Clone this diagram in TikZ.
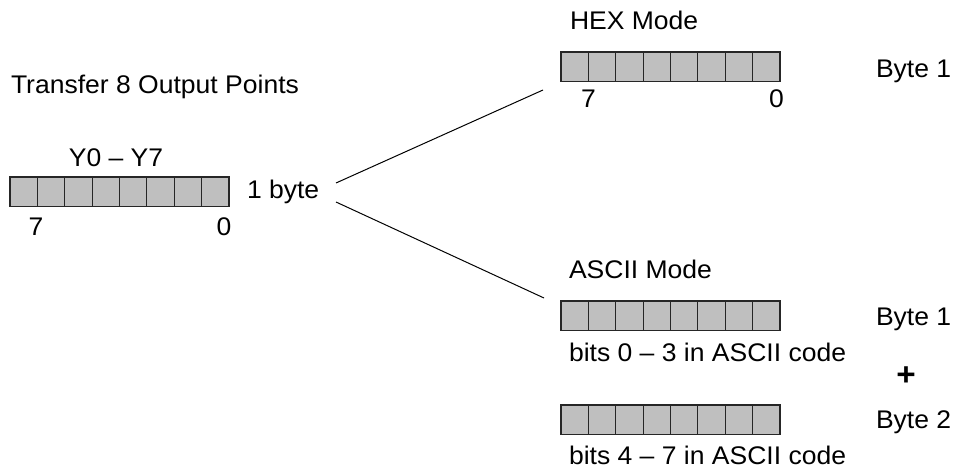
\documentclass[tikz,border=0pt]{standalone}
\usepackage{fontspec}
\setmainfont{Liberation Sans}[FakeStretch=1.04]
\usetikzlibrary{calc}
\begin{document}
\begin{tikzpicture}[x=1pt,y=-1pt,
  txt/.style={inner sep=0pt,outer sep=0pt,font=\fontsize{25.5}{30}\selectfont},
  lbl/.style={txt,anchor=base west},
  bitno/.style={txt,anchor=base},
  reg/.style={draw=black!85,line width=1.1pt,fill=black!25,minimum width=219pt,minimum height=29.5pt,inner sep=0pt,outer sep=0pt,anchor=north west},
  conn/.style={draw=black,line width=1pt}]
\useasboundingbox (0,0) rectangle (956,468);
% registers
\node[reg] (rin) at (10,177) {};
\node[reg] (rhex) at (561,52) {};
\node[reg] (rasc1) at (561,301) {};
\node[reg] (rasc2) at (561,405) {};
\foreach \r in {rin,rhex,rasc1,rasc2}{
  \foreach \i in {1,...,7}{
    \draw[black!85,line width=1.1pt] ($(\r.south west)!\i/8!(\r.south east)$) -- ($(\r.north west)!\i/8!(\r.north east)$);
  }
}
% texts
\node[lbl] (title) at (11,93.3) {Transfer 8 Output Points};
\node[bitno] (yy) at (116,166.7) {Y0 – Y7};
\node[bitno] (in7) at (36,235) {7};
\node[bitno] (in0) at (224,235) {0};
\node[lbl] (onebyte) at (247,198) {1 byte};
\node[lbl] (hexmode) at (570,29.3) {HEX Mode};
\node[bitno] (hex7) at (588.5,108) {7};
\node[bitno] (hex0) at (776.5,108) {0};
\node[lbl] (hexb1) at (876,78) {Byte 1};
\node[lbl] (ascmode) at (569,278) {ASCII Mode};
\node[lbl] (ascb1) at (876,325) {Byte 1};
\node[lbl] (bitsa) at (569,361) {bits 0 – 3 in ASCII code};
\node[txt,font=\fontsize{32}{36}\selectfont\bfseries] (plus) at (906,376) {+};
\node[lbl] (ascb2) at (876,428) {Byte 2};
\node[lbl] (bitsb) at (569,464) {bits 4 – 7 in ASCII code};
% connectors
\coordinate (ua) at (336,183);
\coordinate (ub) at (543,90);
\coordinate (la) at (336,202);
\coordinate (lb) at (544,298);
\draw[conn] (ua) -- (ub);
\draw[conn] (la) -- (lb);
\end{tikzpicture}
\end{document}
